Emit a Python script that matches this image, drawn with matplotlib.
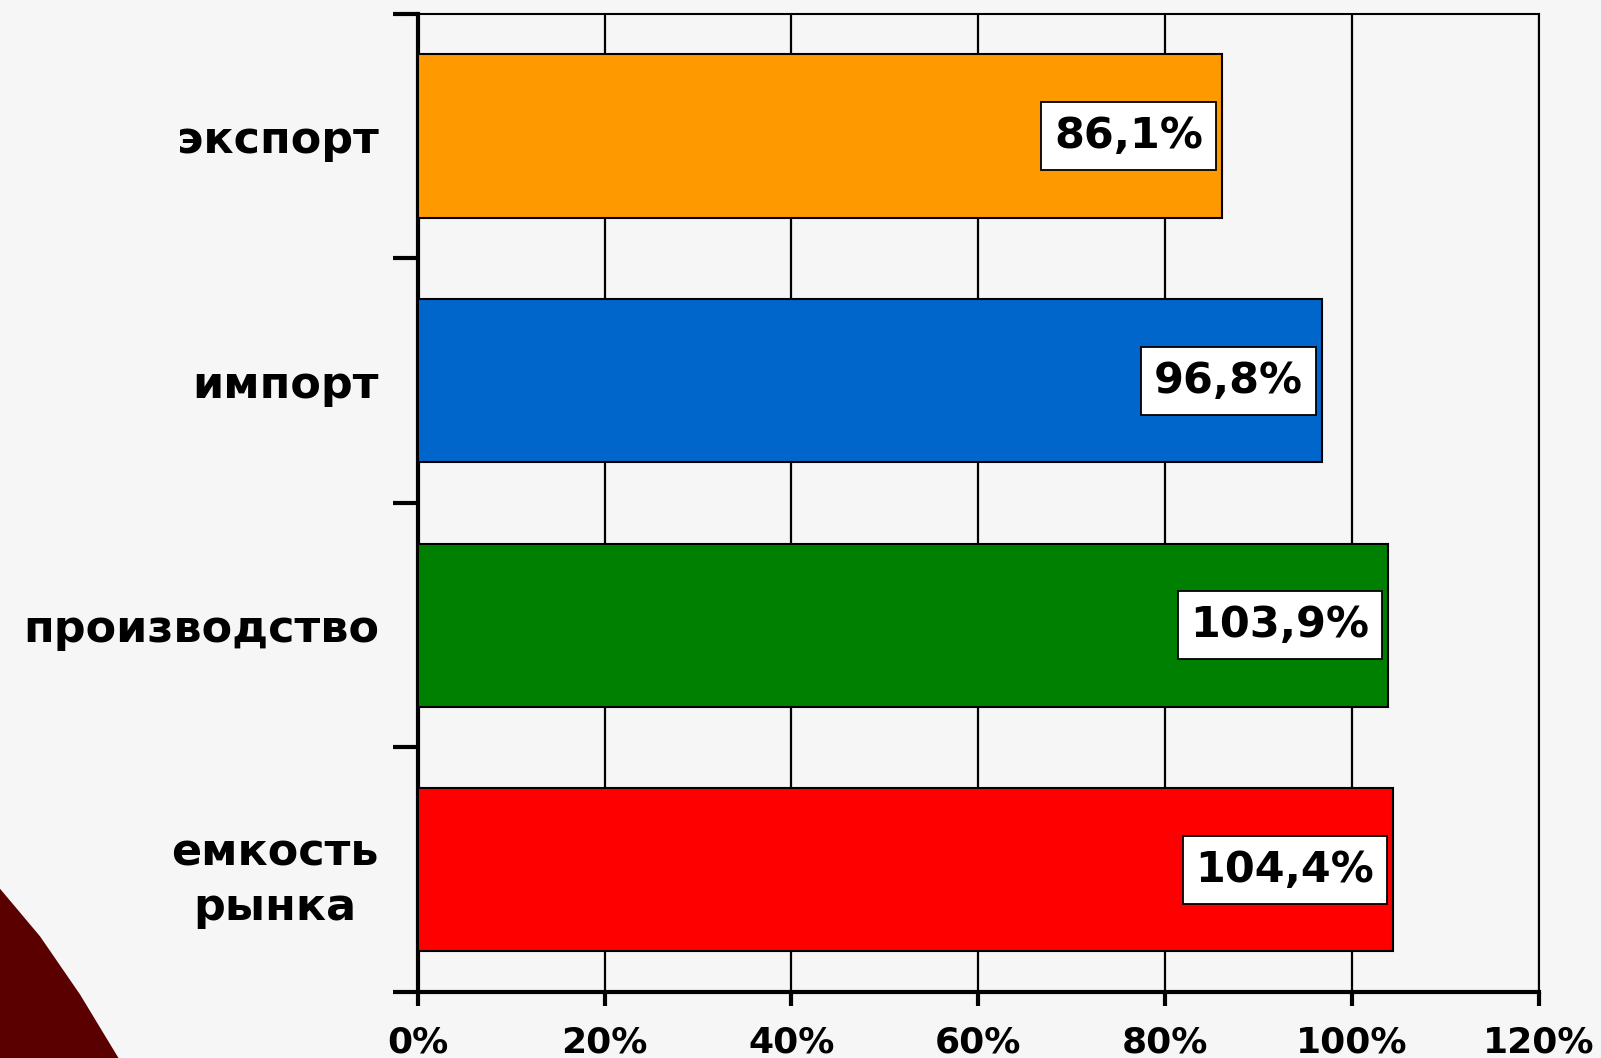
import matplotlib.pyplot as plt
from matplotlib.patches import Polygon
from matplotlib.ticker import FuncFormatter

plt.rcParams['font.family'] = ['DejaVu Sans']

categories = ['емкость\nрынка', 'производство', 'импорт', 'экспорт']
values = [104.4, 103.9, 96.8, 86.1]
labels = ['104,4%', '103,9%', '96,8%', '86,1%']
colors = ['#FF0000', '#008000', '#0066CC', '#FF9900']

fig = plt.figure(figsize=(16.01, 10.58), dpi=100)
fig.patch.set_facecolor('#f6f6f6')

# dark red corner shape from the slide background
corner = Polygon([(0, 0), (0, 0.16), (0.025, 0.115), (0.05, 0.06), (0.074, 0.0)],
                 closed=True, transform=fig.transFigure, facecolor='#5a0000',
                 edgecolor='none', zorder=0)
fig.patches.append(corner)

ax = fig.add_axes([0.261, 0.0624, 0.7, 0.9246])
ax.set_facecolor('none')

pos = range(len(categories))
ax.barh(pos, values, height=0.667, color=colors, edgecolor='black', linewidth=1.5, zorder=3)

for y, v, t in zip(pos, values, labels):
    ax.text(v - 2.0, y, t, ha='right', va='center', fontsize=31, fontweight='bold',
            zorder=4, bbox=dict(boxstyle='square,pad=0.3', facecolor='white',
                                edgecolor='black', linewidth=1.3))

ax.set_xlim(0, 120)
ax.set_ylim(-0.5, 3.5)
ax.set_xticks(range(0, 121, 20))
ax.xaxis.set_major_formatter(FuncFormatter(lambda x, p: f'{int(x)}%'))
ax.grid(axis='x', color='black', linewidth=1.6, zorder=1)

ax.set_yticks(list(pos))
ax.set_yticklabels(categories, multialignment='center', linespacing=1.35)
ax.set_yticks([-0.5, 0.5, 1.5, 2.5, 3.5], minor=True)
ax.tick_params(axis='y', which='major', length=0, pad=28, labelsize=32)
ax.tick_params(axis='y', which='minor', length=18, width=3, direction='out')
ax.tick_params(axis='x', length=10, width=3, direction='out', pad=14, labelsize=26)
for lab in ax.get_yticklabels() + ax.get_xticklabels():
    lab.set_fontweight('bold')

ax.spines['left'].set_linewidth(3)
ax.spines['bottom'].set_linewidth(3)
ax.spines['top'].set_linewidth(1.5)
ax.spines['right'].set_linewidth(1.5)

fig.savefig('out.png', dpi=100, facecolor=fig.get_facecolor())
